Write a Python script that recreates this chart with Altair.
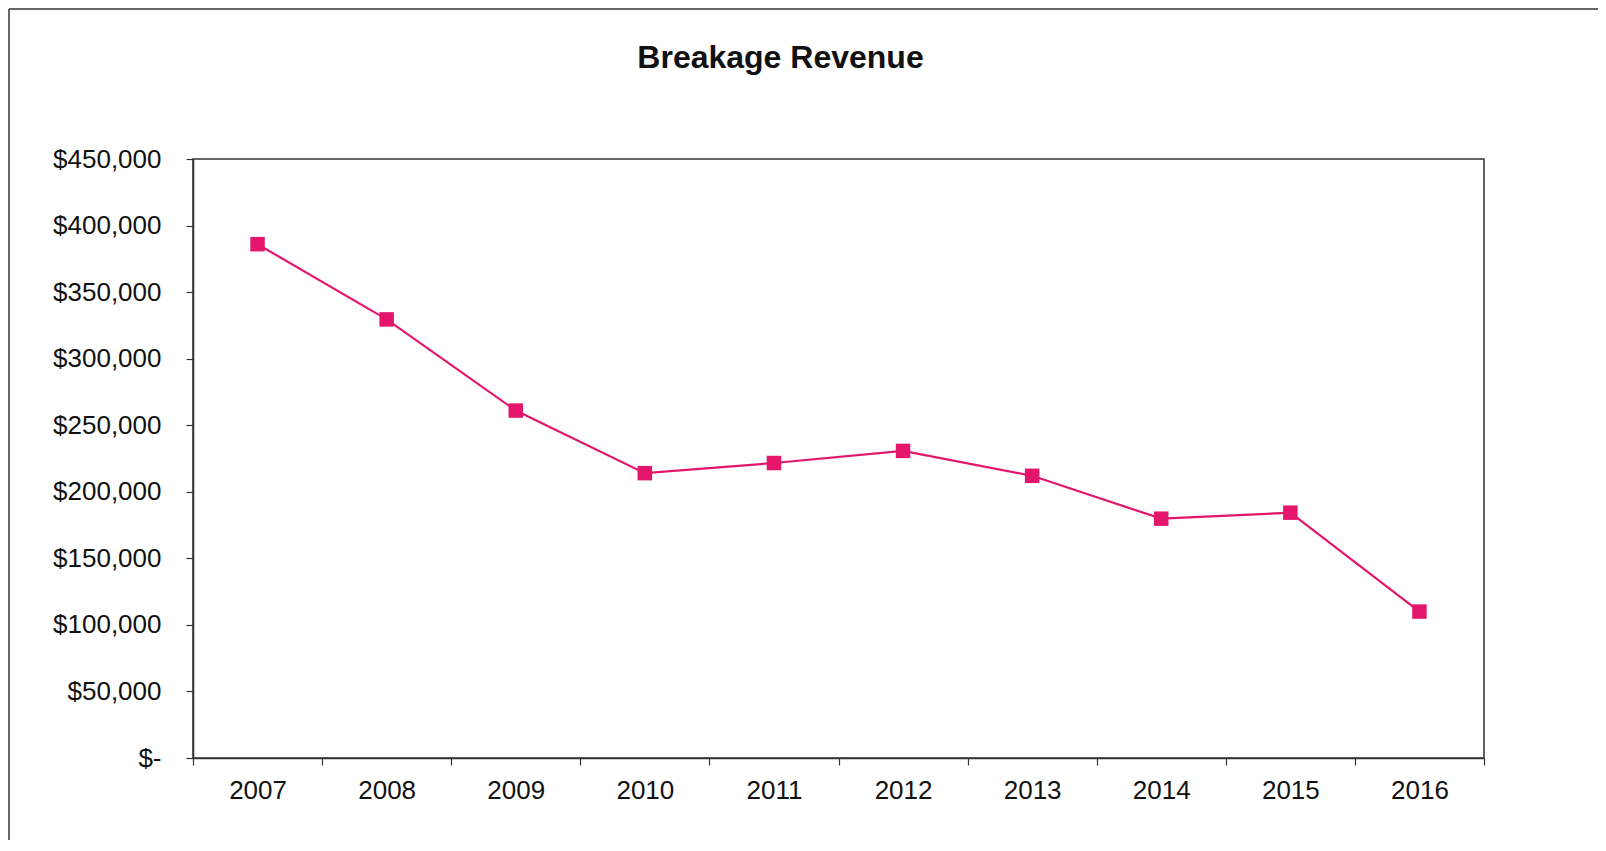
import altair as alt
import pandas as pd

years = ["2007", "2008", "2009", "2010", "2011", "2012", "2013", "2014", "2015", "2016"]
revenue = [386000, 329500, 261000, 214000, 221600, 230700, 212000, 179800, 184300, 110000]
y_ticks = [0, 50000, 100000, 150000, 200000, 250000, 300000, 350000, 400000, 450000]

df = pd.DataFrame({"year": years, "revenue": revenue})

PINK = "#E3166C"
FONT = "Liberation Sans"
W, H = 1291, 599

x_enc = alt.X(
    "year:O",
    bandPosition=0.5,
    scale=alt.Scale(type="band", paddingInner=0, paddingOuter=0),
    axis=alt.Axis(
        title=None, labelAngle=0, tickBand="extent", tickSize=7,
        labelFontSize=26, labelFont=FONT, labelColor="#111111",
        labelPadding=12, domainColor="#333333", tickColor="#333333",
        domainWidth=1.5, tickWidth=1.2,
    ),
)
y_enc = alt.Y(
    "revenue:Q",
    scale=alt.Scale(domain=[0, 450000], nice=False),
    axis=alt.Axis(
        title=None, values=y_ticks, grid=False, tickSize=7,
        labelExpr="datum.value == 0 ? '$-' : '$' + format(datum.value, ',')",
        labelFontSize=26, labelFont=FONT, labelColor="#111111",
        labelPadding=25, domainColor="#333333", tickColor="#333333",
        domainWidth=1.5, tickWidth=1.2,
    ),
)

base = alt.Chart(df)
line = base.mark_line(color=PINK, strokeWidth=2.2).encode(x=x_enc, y=y_enc)
pts = base.mark_point(shape="square", filled=True, color=PINK, size=210, opacity=1).encode(x=x_enc, y=y_enc)

frame_df = pd.DataFrame({"a": [0]})
left_border = alt.Chart(frame_df).mark_rule(color="#333333", strokeWidth=1.5).encode(
    x=alt.value(-184), y=alt.value(-150), y2=alt.value(H + 90)
)
top_border = alt.Chart(frame_df).mark_rule(color="#333333", strokeWidth=1.5).encode(
    x=alt.value(-184), x2=alt.value(W + 114), y=alt.value(-150)
)

chart = (
    alt.layer(left_border, top_border, line, pts)
    .properties(
        width=W,
        height=H,
        title=alt.TitleParams(
            "Breakage Revenue", font=FONT, fontSize=32, fontWeight="bold",
            color="#111111", anchor="middle", frame="group", dx=-58, dy=71,
        ),
        autosize=alt.AutoSizeParams(type="none"),
        padding={"left": 185, "top": 151, "right": 114, "bottom": 82},
        background="white",
    )
    .configure_view(stroke="#333333", strokeWidth=1.5)
)

chart.save("out.html", embed_options={"renderer": "svg", "actions": False})
